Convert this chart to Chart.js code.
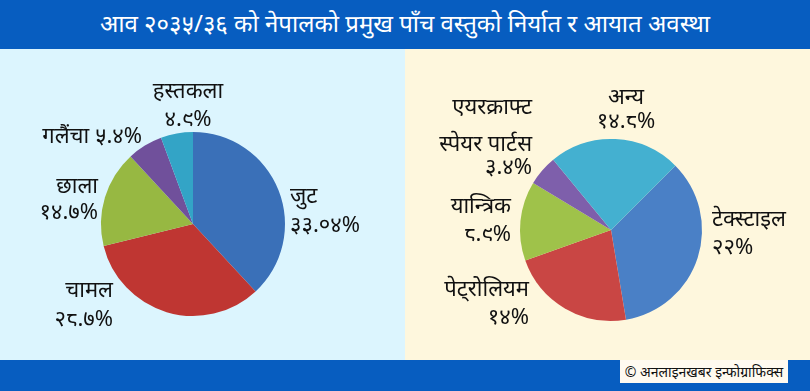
<!DOCTYPE html>
<html lang="ne">
<head>
<meta charset="UTF-8">
<title>निर्यात र आयात</title>
<style>
  body { margin: 0; width: 810px; height: 391px; overflow: hidden; font-family: 'Noto Sans', 'DejaVu Sans', sans-serif; }
  .header { position: absolute; left: 0; top: 0; width: 810px; height: 49px; background: #075dc0; color: #fff;
            font-size: 24px; line-height: 46px; text-align: center; }
  .panel { position: absolute; top: 49px; width: 405px; height: 311px; }
  #leftPanel { left: 0; background: #dcf5fe; }
  #rightPanel { left: 405px; background: #fef7dd; }
  .footer { position: absolute; left: 0; top: 360px; width: 810px; height: 31px; background: #075dc0; }
  .credit { position: absolute; left: 620px; top: 0; width: 168px; height: 23px; background: #fffaf0;
            font-size: 14px; line-height: 23px; text-align: center; color: #111; }
</style>
</head>
<body>
<div class="header">आव २०३५/३६ को नेपालको प्रमुख पाँच वस्तुको निर्यात र आयात अवस्था</div>
<div class="panel" id="leftPanel"><canvas id="exportChart" width="405" height="311"></canvas></div>
<div class="panel" id="rightPanel"><canvas id="importChart" width="405" height="311"></canvas></div>
<div class="footer"><div class="credit">© अनलाइनखबर इन्फोग्राफिक्स</div></div>

<script src="https://cdn.jsdelivr.net/npm/chart.js"></script>
<script>
// निर्यात (left)
var exportLabels = ['जुट', 'चामल', 'छाला', 'गलैंचा', 'हस्तकला'];
var exportValues = [33.04, 28.7, 14.7, 5.4, 4.9];
var exportText = ['३३.०४%', '२८.७%', '१४.७%', '५.४%', '४.९%'];
var exportColors = ['#3a70b8', '#bf3632', '#97b842', '#70509b', '#33a4c6'];

// आयात (right)
var importLabels = ['टेक्स्टाइल', 'पेट्रोलियम', 'यान्त्रिक', 'एयरक्राफ्ट स्पेयर पार्टस', 'अन्य'];
var importValues = [22, 14, 8.9, 3.4, 14.8];
var importText = ['२२%', '१४%', '८.९%', '३.४%', '१४.८%'];
var importColors = ['#4a80c6', '#c94644', '#9fc24a', '#7e5fab', '#44b0d0'];

// label placement relative to pie centre: [lines, dx, dy of each line, align]
var exportPlace = [
    { lines: [exportLabels[0], exportText[0]], dx: 97, dy: [-27, 2], align: 'left' },
    { lines: [exportLabels[1], exportText[1]], dx: -80, dy: [67, 96], align: 'right' },
    { lines: [exportLabels[2], exportText[2]], dx: -95, dy: [-37, -11], align: 'right' },
    { lines: [exportLabels[3] + ' ' + exportText[3]], dx: -51, dy: [-87], align: 'right' },
    { lines: [exportLabels[4], exportText[4]], dx: -5, dy: [-132, -104], align: 'center' }
];
var importPlace = [
    { lines: [importLabels[0], importText[0]], dx: 101, dy: [-10, 18], align: 'left' },
    { lines: [importLabels[1], importText[1]], dx: -82, dy: [60, 88], align: 'right' },
    { lines: [importLabels[2], importText[2]], dx: -100, dy: [-23, 5], align: 'right' },
    { lines: ['एयरक्राफ्ट', 'स्पेयर पार्टस', importText[3]], dx: -79, dy: [-122, -85, -62], align: 'right' },
    { lines: [importLabels[4], importText[4]], dx: 15, dy: [-132, -108], align: 'center' }
];

var pieLabels = {
    id: 'pieLabels',
    afterDatasetsDraw: function (chart, args, opts) {
        var ctx = chart.ctx;
        var arc = chart.getDatasetMeta(0).data[0];
        var cx = arc.x, cy = arc.y;
        ctx.save();
        ctx.fillStyle = '#111';
        ctx.font = '22px "Noto Sans", "DejaVu Sans", sans-serif';
        ctx.textBaseline = 'middle';
        opts.place.forEach(function (p) {
            ctx.textAlign = p.align;
            p.lines.forEach(function (line, i) {
                ctx.fillText(line, cx + p.dx, cy + p.dy[i]);
            });
        });
        ctx.restore();
    }
};

function makePie(id, labels, values, colors, place, rotation, pad) {
    new Chart(document.getElementById(id), {
        type: 'pie',
        data: {
            labels: labels,
            datasets: [{
                data: values,
                backgroundColor: colors,
                borderWidth: 0
            }]
        },
        options: {
            responsive: false,
            animation: false,
            rotation: rotation,
            layout: { padding: pad },
            plugins: {
                legend: { display: false },
                tooltip: { enabled: false },
                pieLabels: { place: place }
            }
        },
        plugins: [pieLabels]
    });
}

makePie('exportChart', exportLabels, exportValues, exportColors, exportPlace, 0,
    { left: 101, right: 120, top: 83, bottom: 44 });
makePie('importChart', importLabels, importValues, importColors, importPlace, 45,
    { left: 115, right: 108, top: 90, bottom: 39 });
</script>
</body>
</html>
